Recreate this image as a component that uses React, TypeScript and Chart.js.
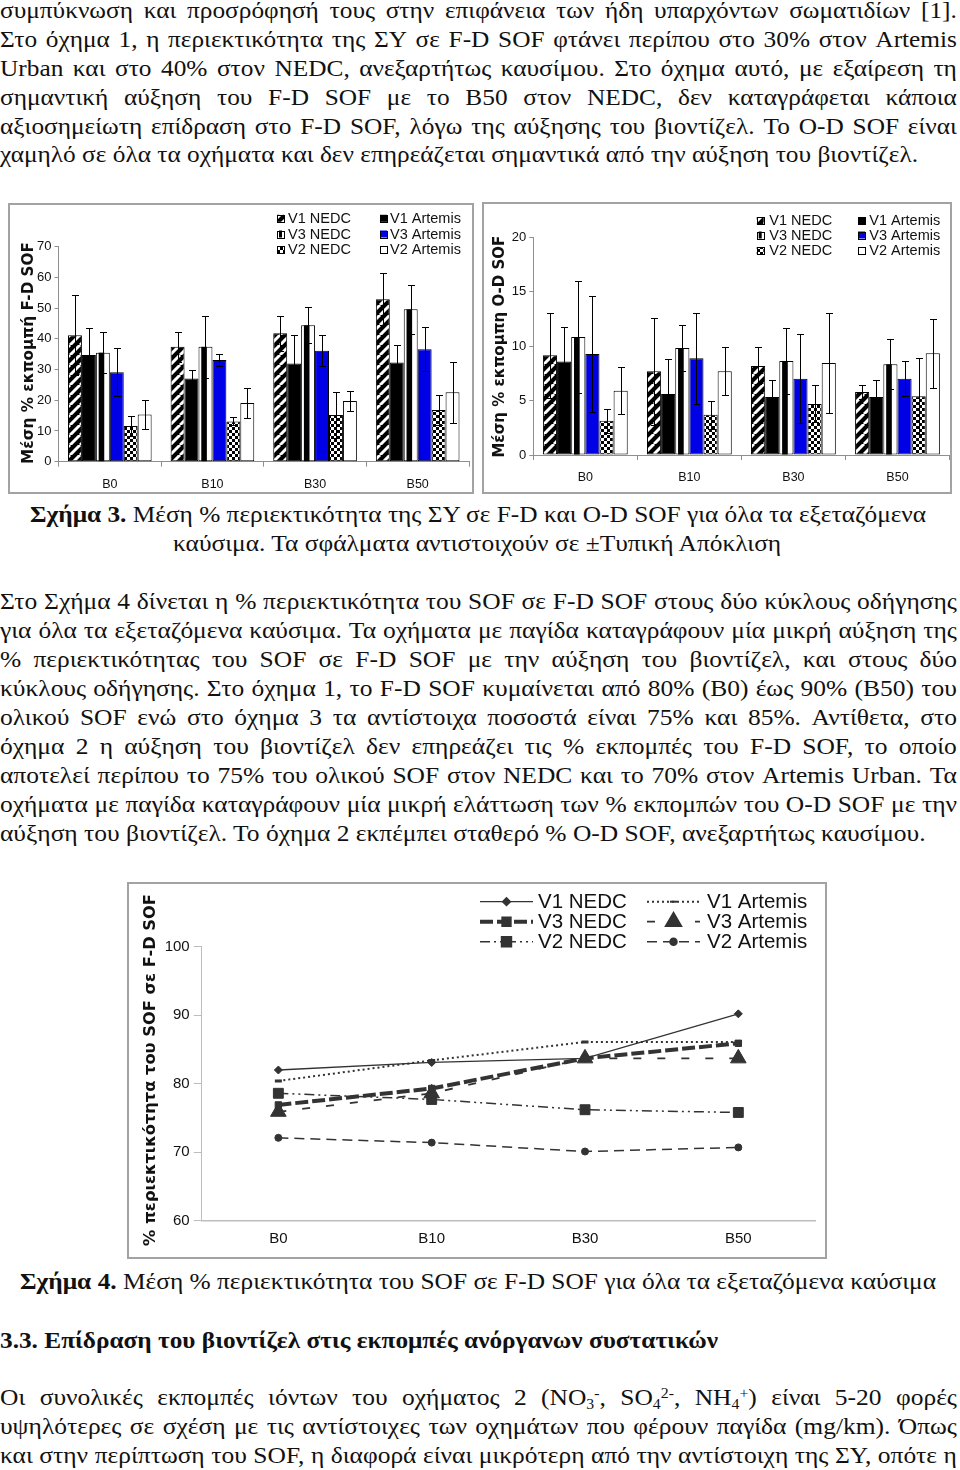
import React, { useEffect, useRef } from "react";
import { Chart, registerables } from "chart.js";
import { drawPoint } from "chart.js/helpers";

Chart.register(...registerables);
Chart.defaults.font.family = "'Liberation Sans', Arial, sans-serif";

// ---------- DATA ----------
const categories = ["B0", "B10", "B30", "B50"];
const seriesLabels = ["V1 NEDC", "V1 Artemis", "V3 NEDC", "V3 Artemis", "V2 NEDC", "V2 Artemis"];

// Σχήμα 3 (αριστερά): Μέση % εκπομπή F-D SOF
const fdV1Nedc = [41.2, 37.4, 41.8, 52.9];
const fdV1Artemis = [34.7, 27.1, 32.0, 32.3];
const fdV3Nedc = [35.5, 37.4, 44.4, 49.6];
const fdV3Artemis = [29.1, 33.1, 36.1, 36.6];
const fdV2Nedc = [11.6, 13.1, 15.2, 16.8];
const fdV2Artemis = [15.4, 19.1, 19.8, 22.6];
const fdV1NedcSd = [13.1, 4.9, 5.7, 8.4];
const fdV1ArtemisSd = [8.7, 2.6, 9.2, 5.7];
const fdV3NedcSd = [6.6, 10.1, 5.9, 7.9];
const fdV3ArtemisSd = [7.8, 2.1, 5.0, 7.1];
const fdV2NedcSd = [3.2, 1.3, 7.6, 4.9];
const fdV2ArtemisSd = [4.6, 4.8, 3.3, 10.0];

// Σχήμα 3 (δεξιά): Μέση % εκπομπή O-D SOF
const odV1Nedc = [9.16, 7.69, 8.18, 5.79];
const odV1Artemis = [8.58, 5.6, 5.33, 5.33];
const odV3Nedc = [10.84, 9.83, 8.64, 8.33];
const odV3Artemis = [9.28, 8.88, 7.01, 7.01];
const odV2Nedc = [3.15, 3.7, 4.69, 5.39];
const odV2Artemis = [5.9, 7.69, 8.45, 9.34];
const odV1NedcSd = [3.9, 4.9, 1.7, 0.6];
const odV1ArtemisSd = [3.2, 3.2, 1.6, 1.6];
const odV3NedcSd = [5.1, 2.1, 3.0, 2.3];
const odV3ArtemisSd = [5.3, 4.2, 4.1, 1.6];
const odV2NedcSd = [1.1, 1.3, 1.7, 3.5];
const odV2ArtemisSd = [2.15, 2.2, 4.6, 3.2];

// Σχήμα 4: % περιεκτικότητα του SOF σε F-D SOF
const sofV1Nedc = [82.0, 83.1, 83.7, 90.2];
const sofV1Artemis = [80.4, 83.4, 86.1, 86.1];
const sofV3Nedc = [76.9, 79.3, 83.7, 85.9];
const sofV3Artemis = [75.9, 78.6, 83.7, 83.7];
const sofV2Nedc = [78.6, 77.7, 76.2, 75.8];
const sofV2Artemis = [72.1, 71.4, 70.1, 70.7];

const fdTicks = { min: 0, max: 70, step: 10 };
const odTicks = { min: 0, max: 20, step: 5 };
const sofTicks = { min: 60, max: 100, step: 10 };

// ---------- TEXT ----------
const para1 = [
  "συμπύκνωση και προσρόφησή τους στην επιφάνεια των ήδη υπαρχόντων σωματιδίων [1].",
  "Στο όχημα 1, η περιεκτικότητα της ΣΥ σε F-D SOF φτάνει περίπου στο 30% στον Artemis",
  "Urban και στο 40% στον NEDC, ανεξαρτήτως καυσίμου. Στο όχημα αυτό, με εξαίρεση τη",
  "σημαντική αύξηση του F-D SOF με το B50 στον NEDC, δεν καταγράφεται κάποια",
  "αξιοσημείωτη επίδραση στο F-D SOF, λόγω της αύξησης του βιοντίζελ. Το O-D SOF είναι",
  "χαμηλό σε όλα τα οχήματα και δεν επηρεάζεται σημαντικά από την αύξηση του βιοντίζελ.",
];
const para2 = [
  "Στο Σχήμα 4 δίνεται η % περιεκτικότητα του SOF σε F-D SOF στους δύο κύκλους οδήγησης",
  "για όλα τα εξεταζόμενα καύσιμα. Τα οχήματα με παγίδα καταγράφουν μία μικρή αύξηση της",
  "% περιεκτικότητας του SOF σε F-D SOF με την αύξηση του βιοντίζελ, και στους δύο",
  "κύκλους οδήγησης. Στο όχημα 1, το F-D SOF κυμαίνεται από 80% (B0) έως 90% (B50) του",
  "ολικού SOF ενώ στο όχημα 3 τα αντίστοιχα ποσοστά είναι 75% και 85%. Αντίθετα, στο",
  "όχημα 2 η αύξηση του βιοντίζελ δεν επηρεάζει τις % εκπομπές του F-D SOF, το οποίο",
  "αποτελεί περίπου το 75% του ολικού SOF στον NEDC και το 70% στον Artemis Urban. Τα",
  "οχήματα με παγίδα καταγράφουν μία μικρή ελάττωση των % εκπομπών του O-D SOF με την",
  "αύξηση του βιοντίζελ. Το όχημα 2 εκπέμπει σταθερό % O-D SOF, ανεξαρτήτως καυσίμου.",
];
const para3b = [
  "υψηλότερες σε σχέση με τις αντίστοιχες των οχημάτων που φέρουν παγίδα (mg/km). Όπως",
  "και στην περίπτωση του SOF, η διαφορά είναι μικρότερη από την αντίστοιχη της ΣΥ, οπότε η",
];

// ---------- TEXT HELPERS ----------
const SERIF = '"Liberation Serif"';
let mctx: CanvasRenderingContext2D | null = null;
function measure(text: string, size: number, bold = false) {
  if (!mctx) mctx = document.createElement("canvas").getContext("2d");
  mctx!.font = `${bold ? "bold " : ""}${size}px ${SERIF}`;
  return mctx!.measureText(text).width;
}
const BASE = 0.8375;

function JLine({ words, baseline, size, scale }: { words: React.ReactNode[]; baseline: number; size: number; scale: number }) {
  return (
    <div
      style={{
        position: "absolute", left: 0, top: baseline - BASE * size, width: 957 / scale, height: size,
        lineHeight: size + "px", fontSize: size, display: "flex", justifyContent: "space-between",
        whiteSpace: "nowrap", transform: `scaleX(${scale})`, transformOrigin: "0 0",
      }}
    >
      {words.map((w, i) => (<span key={i}>{w}</span>))}
    </div>
  );
}
function PLine({ text, baseline, size, scale }: { text: string; baseline: number; size: number; scale: number }) {
  return (
    <div style={{ position: "absolute", left: 0, top: baseline - BASE * size, lineHeight: size + "px", fontSize: size, whiteSpace: "pre", transform: `scaleX(${scale})`, transformOrigin: "0 0" }}>
      {text}
    </div>
  );
}
type Seg = { t: string; b?: boolean };
function FitLine({ segs, x1, x2, baseline, size }: { segs: Seg[]; x1: number; x2: number; baseline: number; size: number }) {
  const nat = segs.reduce((a, s) => a + measure(s.t, size, s.b), 0);
  const sc = (x2 - x1) / nat;
  return (
    <div style={{ position: "absolute", left: x1, top: baseline - BASE * size, lineHeight: size + "px", fontSize: size, whiteSpace: "pre", transform: `scaleX(${sc})`, transformOrigin: "0 0" }}>
      {segs.map((s, i) => (<span key={i} style={{ fontWeight: s.b ? "bold" : "normal" }}>{s.t}</span>))}
    </div>
  );
}
function Paragraph({ lines, first, step, size, scale }: { lines: string[]; first: number; step: number; size: number; scale: number }) {
  return (
    <>
      {lines.map((l, i) =>
        i < lines.length - 1 ? (
          <JLine key={i} words={l.split(" ")} baseline={first + i * step} size={size} scale={scale} />
        ) : (
          <PLine key={i} text={l} baseline={first + i * step} size={size} scale={scale} />
        )
      )}
    </>
  );
}
const subSt: React.CSSProperties = { fontSize: "0.62em", position: "relative", top: "0.25em" };
const supSt: React.CSSProperties = { fontSize: "0.62em", position: "relative", top: "-0.45em" };

// ---------- CHART HELPERS ----------
function drawVTitle(ctx: CanvasRenderingContext2D, text: string, x: number, cy: number, len: number) {
  ctx.save();
  ctx.font = 'bold 100px "DejaVu Sans"';
  const w = ctx.measureText(text).width;
  const size = (100 * len) / w;
  ctx.font = `bold ${size}px "DejaVu Sans"`;
  ctx.translate(x, cy);
  ctx.rotate(-Math.PI / 2);
  ctx.textAlign = "center";
  ctx.textBaseline = "alphabetic";
  ctx.fillStyle = "#111";
  ctx.fillText(text, 0, 0);
  ctx.restore();
}

function makeDiag(ctx: CanvasRenderingContext2D) {
  const n = 10;
  const c = document.createElement("canvas");
  c.width = n; c.height = n;
  const g = c.getContext("2d")!;
  g.fillStyle = "#000"; g.fillRect(0, 0, n, n);
  g.strokeStyle = "#fff"; g.lineWidth = 3;
  g.beginPath();
  for (const k of [-n, 0, n]) { g.moveTo(k, n); g.lineTo(k + n, 0); }
  g.stroke();
  return ctx.createPattern(c, "repeat")!;
}
function makeChecker(ctx: CanvasRenderingContext2D) {
  const c = document.createElement("canvas");
  c.width = 6; c.height = 6;
  const g = c.getContext("2d")!;
  g.fillStyle = "#fff"; g.fillRect(0, 0, 6, 6);
  g.fillStyle = "#000"; g.fillRect(0, 0, 3, 3); g.fillRect(3, 3, 3, 3);
  return ctx.createPattern(c, "repeat")!;
}
const BLUE = "#0000e6";
const AXIS = "#8f8f8f";

type BarProps = {
  values: number[][]; sds: number[][]; ticks: { min: number; max: number; step: number }; yTitle: string;
  box: { left: number; top: number; width: number; height: number };
  yWidth: number; padTop: number; padRight: number; xHeight: number;
  legend: { sw1: number; tx1: number; sw2: number; tx2: number; rows: number[] };
  title: { x: number; cy: number; len: number };
};

function BarChart(p: BarProps) {
  const ref = useRef<HTMLCanvasElement>(null);
  const w = p.box.width - 4, h = p.box.height - 4;
  useEffect(() => {
    const canvas = ref.current!;
    const ctx = canvas.getContext("2d")!;
    const diag = makeDiag(ctx);
    const checker = makeChecker(ctx);
    const fills: any[] = [diag, "#000", "#fff", BLUE, checker, "#fff"];

    const extras = {
      id: "barExtras",
      afterDatasetsDraw(chart: any) {
        const c = chart.ctx as CanvasRenderingContext2D;
        const ys = chart.scales.y;
        c.save();
        // black central band of the V3 NEDC bars
        c.fillStyle = "#000";
        chart.getDatasetMeta(2).data.forEach((bar: any) => {
          const { x, y, base, width } = bar.getProps(["x", "y", "base", "width"], true);
          c.fillRect(x - width * 0.3, y, width * 0.4, base - y);
        });
        // error bars (± SD)
        c.strokeStyle = "#000";
        c.lineWidth = 1;
        chart.data.datasets.forEach((ds: any, di: number) => {
          chart.getDatasetMeta(di).data.forEach((bar: any, i: number) => {
            const v = ds.data[i];
            const sd = p.sds[di][i];
            const x = Math.round(bar.x) + 0.5;
            const y1 = Math.round(ys.getPixelForValue(v + sd)) + 0.5;
            const y2 = Math.round(ys.getPixelForValue(v - sd)) + 0.5;
            c.beginPath();
            c.moveTo(x, y1); c.lineTo(x, y2);
            c.moveTo(x - 3.5, y1); c.lineTo(x + 3.5, y1);
            c.moveTo(x - 3.5, y2); c.lineTo(x + 3.5, y2);
            c.stroke();
          });
        });
        c.restore();
      },
      afterDraw(chart: any) {
        const c = chart.ctx as CanvasRenderingContext2D;
        drawVTitle(c, p.yTitle, p.title.x, p.title.cy, p.title.len);
        c.save();
        c.font = "14.5px 'Liberation Sans'";
        c.textBaseline = "middle";
        chart.data.datasets.forEach((ds: any, di: number) => {
          const col = di % 2;
          const row = Math.floor(di / 2);
          const sx = col === 0 ? p.legend.sw1 : p.legend.sw2;
          const tx = col === 0 ? p.legend.tx1 : p.legend.tx2;
          const y = p.legend.rows[row];
          const s = 7;
          c.fillStyle = fills[di];
          c.fillRect(sx, y - s / 2, s, s);
          if (di === 2) { c.fillStyle = "#000"; c.fillRect(sx + 2, y - s / 2, 3, s); }
          c.strokeStyle = "#000"; c.lineWidth = 1;
          c.strokeRect(Math.round(sx) + 0.5, Math.round(y - s / 2) + 0.5, s, s);
          c.fillStyle = "#111";
          c.fillText(ds.label, tx, y + 0.5);
        });
        c.restore();
      },
    };

    const chart = new Chart(canvas, {
      type: "bar",
      data: {
        labels: categories,
        datasets: p.values.map((v, i) => ({
          label: seriesLabels[i],
          data: v,
          backgroundColor: fills[i],
          borderColor: "#000",
          borderWidth: 1,
          borderSkipped: false,
          categoryPercentage: 0.815,
          barPercentage: 1,
        })),
      },
      options: {
        responsive: false,
        animation: false,
        events: [],
        layout: { padding: { top: p.padTop, right: p.padRight, left: 0, bottom: 0 } },
        plugins: { legend: { display: false }, tooltip: { enabled: false } },
        scales: {
          x: {
            grid: { display: true, drawOnChartArea: false, drawTicks: true, tickLength: 5, offset: true, color: AXIS },
            border: { display: true, color: AXIS },
            ticks: { color: "#111", font: { size: 12.5 }, padding: 10 },
            afterFit: (s: any) => { s.height = p.xHeight; },
          },
          y: {
            min: p.ticks.min, max: p.ticks.max,
            ticks: { stepSize: p.ticks.step, color: "#111", font: { size: 13 }, padding: 3 },
            grid: { display: true, drawOnChartArea: false, drawTicks: true, tickLength: 4, color: AXIS },
            border: { display: true, color: AXIS },
            afterFit: (s: any) => { s.width = p.yWidth; },
          },
        },
      },
      plugins: [extras],
    } as any);
    return () => chart.destroy();
  }, []);
  return (
    <div style={{ position: "absolute", left: p.box.left, top: p.box.top, width: p.box.width, height: p.box.height, border: "2px solid #a3a3a3", boxSizing: "border-box", background: "#fff" }}>
      <canvas ref={ref} width={w} height={h} style={{ display: "block", width: w, height: h }} />
    </div>
  );
}

const lineStyles = [
  { dash: [] as number[], width: 1.3, point: "rectRot", r: 4, pbw: 1 },
  { dash: [2, 3], width: 2, point: "line", r: 3.5, pbw: 3 },
  { dash: [13, 4], width: 4, point: "rect", r: 4.5, pbw: 1 },
  { dash: [8, 16], width: 1.8, point: "triangle", r: 9, pbw: 1 },
  { dash: [10, 4, 2, 4, 2, 4], width: 1.5, point: "rect", r: 7, pbw: 1 },
  { dash: [10, 6], width: 1.5, point: "circle", r: 3.5, pbw: 1 },
];

function LineChart() {
  const ref = useRef<HTMLCanvasElement>(null);
  const box = { left: 127, top: 882, width: 700, height: 377 };
  const w = box.width - 4, h = box.height - 4;
  useEffect(() => {
    const canvas = ref.current!;
    const values = [sofV1Nedc, sofV1Artemis, sofV3Nedc, sofV3Artemis, sofV2Nedc, sofV2Artemis];
    const legRows = [17.7, 37.7, 57.7];
    const extras = {
      id: "lineExtras",
      afterDraw(chart: any) {
        const c = chart.ctx as CanvasRenderingContext2D;
        drawVTitle(c, "% περιεκτικότητα του SOF σε F-D SOF", 26, 186, 352);
        c.save();
        lineStyles.forEach((st, di) => {
          const col = di % 2;
          const row = Math.floor(di / 2);
          const x1 = col === 0 ? 351 : 518;
          const x2 = x1 + 53;
          const tx = col === 0 ? 409 : 578;
          const y = legRows[row];
          c.strokeStyle = "#333";
          c.fillStyle = "#333";
          c.lineWidth = st.width;
          c.setLineDash(st.dash);
          c.beginPath(); c.moveTo(x1, y); c.lineTo(x2, y); c.stroke();
          c.setLineDash([]);
          drawPoint(c, { pointStyle: st.point as any, rotation: 0, radius: st.r, borderWidth: st.pbw } as any, (x1 + x2) / 2, y);
          c.fillStyle = "#111";
          c.font = "20.5px 'Liberation Sans'";
          c.textBaseline = "middle";
          c.fillText(seriesLabels[di], tx, y + 1);
        });
        c.restore();
      },
    };
    const chart = new Chart(canvas, {
      type: "line",
      data: {
        labels: categories,
        datasets: values.map((v, i) => ({
          label: seriesLabels[i],
          data: v,
          borderColor: "#333",
          backgroundColor: "#333",
          borderWidth: lineStyles[i].width,
          borderDash: lineStyles[i].dash,
          pointStyle: lineStyles[i].point,
          pointRadius: lineStyles[i].r,
          pointBackgroundColor: "#333",
          pointBorderColor: "#333",
          pointBorderWidth: lineStyles[i].pbw,
          tension: 0,
          fill: false,
        })),
      },
      options: {
        responsive: false,
        animation: false,
        events: [],
        layout: { padding: { top: 62.7, right: 10, left: 0, bottom: 0 } },
        plugins: { legend: { display: false }, tooltip: { enabled: false } },
        scales: {
          x: {
            offset: true,
            grid: { display: false, drawTicks: false },
            border: { display: true, color: "#bdbdbd", width: 1.5 },
            ticks: { color: "#111", font: { size: 15 }, padding: 9 },
            afterFit: (s: any) => { s.height = 36.3; },
          },
          y: {
            min: sofTicks.min, max: sofTicks.max,
            ticks: { stepSize: sofTicks.step, color: "#111", font: { size: 15 }, padding: 4 },
            grid: { display: true, drawOnChartArea: false, drawTicks: true, tickLength: 8, color: "#bdbdbd" },
            border: { display: true, color: "#bdbdbd" },
            afterFit: (s: any) => { s.width = 72.7; },
          },
        },
      },
      plugins: [extras],
    } as any);
    return () => chart.destroy();
  }, []);
  return (
    <div style={{ position: "absolute", left: box.left, top: box.top, width: box.width, height: box.height, border: "2px solid #a3a3a3", boxSizing: "border-box", background: "#fff" }}>
      <canvas ref={ref} width={w} height={h} style={{ display: "block", width: w, height: h }} />
    </div>
  );
}

export default function App() {
  const s1 = 918 / measure(para1[para1.length - 1], 23);
  const s2 = 926 / measure(para2[para2.length - 1], 24);
  const p3w1: React.ReactNode[] = [
    "Οι", "συνολικές", "εκπομπές", "ιόντων", "του", "οχήματος", "2",
    <>(NO<span style={subSt}>3</span><span style={supSt}>-</span>,</>,
    <>SO<span style={subSt}>4</span><span style={supSt}>2-</span>,</>,
    <>NH<span style={subSt}>4</span><span style={supSt}>+</span>)</>,
    "είναι", "5-20", "φορές",
  ];
  return (
    <div style={{ position: "absolute", left: 0, top: 0, width: 960, height: 1470, overflow: "hidden", background: "#fff", color: "#111", fontFamily: SERIF }}>
      <Paragraph lines={para1} first={18.5} step={28.85} size={23} scale={s1} />

      <BarChart
        values={[fdV1Nedc, fdV1Artemis, fdV3Nedc, fdV3Artemis, fdV2Nedc, fdV2Artemis]}
        sds={[fdV1NedcSd, fdV1ArtemisSd, fdV3NedcSd, fdV3ArtemisSd, fdV2NedcSd, fdV2ArtemisSd]}
        ticks={fdTicks}
        yTitle="Μέση % εκπομπή F-D SOF"
        box={{ left: 8, top: 203, width: 466, height: 291 }}
        yWidth={48.5} padTop={41.7} padRight={3} xHeight={30.3}
        legend={{ sw1: 267, tx1: 278, sw2: 370, tx2: 380, rows: [13.3, 29, 44.7] }}
        title={{ x: 22.5, cy: 148, len: 222 }}
      />
      <BarChart
        values={[odV1Nedc, odV1Artemis, odV3Nedc, odV3Artemis, odV2Nedc, odV2Artemis]}
        sds={[odV1NedcSd, odV1ArtemisSd, odV3NedcSd, odV3ArtemisSd, odV2NedcSd, odV2ArtemisSd]}
        ticks={odTicks}
        yTitle="Μέση % εκπομπη O-D SOF"
        box={{ left: 482, top: 202, width: 470, height: 292 }}
        yWidth={49.3} padTop={33.3} padRight={0.5} xHeight={37}
        legend={{ sw1: 272.7, tx1: 285.3, sw2: 374, tx2: 385.3, rows: [16.7, 31, 46.7] }}
        title={{ x: 20, cy: 142.7, len: 222 }}
      />

      <FitLine segs={[{ t: "Σχήμα 3.", b: true }, { t: " Μέση % περιεκτικότητα της ΣΥ σε F-D και O-D SOF για όλα τα εξεταζόμενα" }]} x1={30} x2={927} baseline={522} size={24} />
      <FitLine segs={[{ t: "καύσιμα. Τα σφάλματα αντιστοιχούν σε ±Τυπική Απόκλιση" }]} x1={173} x2={783} baseline={551} size={24} />

      <Paragraph lines={para2} first={609} step={29} size={24} scale={s2} />

      <LineChart />

      <FitLine segs={[{ t: "Σχήμα 4.", b: true }, { t: " Μέση % περιεκτικότητα του SOF σε F-D SOF για όλα τα εξεταζόμενα καύσιμα" }]} x1={20} x2={936} baseline={1289} size={24} />
      <FitLine segs={[{ t: "3.3. Επίδραση του βιοντίζελ στις εκπομπές ανόργανων συστατικών", b: true }]} x1={0} x2={718} baseline={1348} size={24} />

      <JLine words={p3w1} baseline={1405} size={24} scale={s2} />
      <JLine words={para3b[0].split(" ")} baseline={1434} size={24} scale={s2} />
      <JLine words={para3b[1].split(" ")} baseline={1463} size={24} scale={s2} />
    </div>
  );
}
